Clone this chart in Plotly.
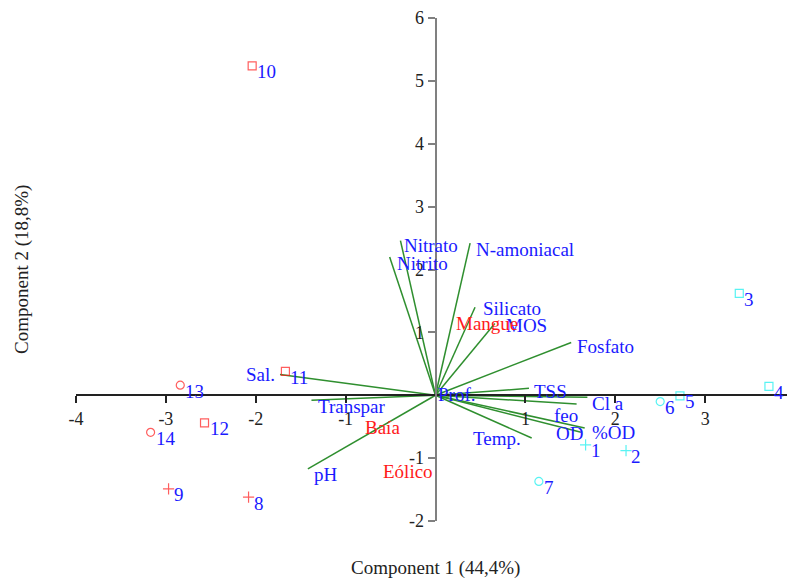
import plotly.graph_objects as go

# ---- data ----
var_names = ["Nitrato", "Nitrito", "N-amoniacal", "Silicato", "MOS", "Fosfato", "TSS",
             "Cl a", "feo", "%OD", "OD", "Temp.", "Prof.", "Sal.", "Transpar", "pH"]
var_x = [-0.39, -0.51, 0.385, 0.44, 0.66, 1.51, 1.04, 1.69, 1.57, 1.66, 1.62, 1.07, 0.01, -1.73, -1.38, -1.42]
var_y = [2.46, 2.20, 2.42, 1.40, 1.14, 0.84, 0.11, -0.03, -0.14, -0.52, -0.59, -0.68, 0.02, 0.33, -0.08, -1.17]

site_ids = ["1", "2", "3", "4", "5", "6", "7", "8", "9", "10", "11", "12", "13", "14"]
site_x = [1.67, 2.12, 3.38, 3.71, 2.72, 2.50, 1.15, -2.08, -2.97, -2.04, -1.67, -2.57, -2.84, -3.17]
site_y = [-0.79, -0.88, 1.62, 0.14, -0.01, -0.10, -1.37, -1.62, -1.49, 5.24, 0.38, -0.44, 0.16, -0.59]
site_shape = ["plus", "plus", "square", "square", "square", "circle", "circle",
              "plus", "plus", "square", "square", "square", "circle", "circle"]
site_group = ["A", "A", "A", "A", "A", "A", "A", "B", "B", "B", "B", "B", "B", "B"]

group_names = ["Mangue", "Baía", "Eólico"]
group_x = [0.57, -0.59, -0.31]
group_y = [1.14, -0.51, -1.22]

x_ticks = [-4, -3, -2, -1, 1, 2, 3, 4]
y_ticks = [-2, -1, 1, 2, 3, 4, 5, 6]

# ---- styles ----
FONT = "Liberation Serif"
GREEN = "#2f8f2f"
BLUE = "#1a1aff"
RED = "#ff1a1a"
CYAN = "#11eeee"
sym_map = {"plus": "cross-thin-open", "square": "square-open", "circle": "circle-open"}
col_map = {"A": CYAN, "B": RED}
# label placement: (xanchor, xshift px, yshift px)
var_label_place = {
    "Nitrato": ("left", 2, -5), "Nitrito": ("left", 5, -7), "N-amoniacal": ("left", 4, -6),
    "Silicato": ("left", 6, -1), "MOS": ("left", 9, -2), "Fosfato": ("left", 4, -4),
    "TSS": ("left", 3, -3), "Cl a": ("left", 3, -6), "feo": ("right", 3, -11),
    "%OD": ("left", 5, -5), "OD": ("right", 4, -1), "Temp.": ("right", -9, 0),
    "Prof.": ("left", 0, -1), "Sal.": ("right", -3, 0), "Transpar": ("left", 5, -6),
    "pH": ("left", 4, -6),
}

fig = go.Figure()

# loading vectors
lx, ly = [], []
for vx, vy in zip(var_x, var_y):
    lx += [0, vx, None]
    ly += [0, vy, None]
fig.add_trace(go.Scatter(x=lx, y=ly, mode="lines",
                         line=dict(color=GREEN, width=1.5), hoverinfo="skip", showlegend=False))

# site markers
fig.add_trace(go.Scatter(
    x=site_x, y=site_y, mode="markers",
    marker=dict(symbol=[sym_map[s] for s in site_shape],
                color=[col_map[g] for g in site_group],
                size=[8 if s == "plus" else 8 for s in site_shape],
                line=dict(width=1.2, color=[col_map[g] for g in site_group])),
    showlegend=False, hoverinfo="skip"))

annotations = []
for name, vx, vy in zip(var_names, var_x, var_y):
    anc, dx, dy = var_label_place[name]
    annotations.append(dict(x=vx, y=vy, xref="x", yref="y", text=name, showarrow=False,
                            xanchor=anc, yanchor="middle", xshift=dx, yshift=dy,
                            font=dict(family=FONT, size=19, color=BLUE)))
for sid, sx, sy in zip(site_ids, site_x, site_y):
    annotations.append(dict(x=sx, y=sy, xref="x", yref="y", text=sid, showarrow=False,
                            xanchor="left", yanchor="middle", xshift=3, yshift=-6,
                            font=dict(family=FONT, size=19, color=BLUE)))
for gname, gx, gy in zip(group_names, group_x, group_y):
    annotations.append(dict(x=gx, y=gy, xref="x", yref="y", text=gname, showarrow=False,
                            xanchor="center", yanchor="middle",
                            font=dict(family=FONT, size=19, color=RED)))

# axis titles
annotations.append(dict(x=0.5, y=0, xref="paper", yref="paper", text="Component 1 (44,4%)",
                        showarrow=False, xanchor="center", yanchor="middle", yshift=-47,
                        font=dict(family=FONT, size=19, color="#222")))
annotations.append(dict(x=0, y=0.499, xref="paper", yref="paper", text="Component 2 (18,8%)",
                        showarrow=False, xanchor="center", yanchor="middle", xshift=-54,
                        textangle=-90, font=dict(family=FONT, size=19, color="#222")))

fig.update_layout(
    width=787, height=570,
    margin=dict(l=68, r=0, t=10, b=57),
    paper_bgcolor="white", plot_bgcolor="white",
    font=dict(family=FONT, size=18, color="#222"),
    annotations=annotations,
    xaxis=dict(range=[-4, 4], anchor="free", position=0.25, showgrid=False, zeroline=False,
               showline=True, linecolor="#222", linewidth=1.5, ticks="outside", ticklen=7,
               tickcolor="#222", tickwidth=1.5, tickvals=x_ticks,
               ticktext=[str(t) for t in x_ticks], tickfont=dict(family=FONT, size=18, color="#222")),
    yaxis=dict(range=[-2, 6], anchor="free", position=0.5, showgrid=False, zeroline=False,
               showline=True, linecolor="#808080", linewidth=2, ticks="outside", ticklen=7,
               tickcolor="#808080", tickwidth=1.5, tickvals=y_ticks,
               ticktext=[str(t) for t in y_ticks], tickfont=dict(family=FONT, size=18, color="#222")),
)

fig.write_html("out.html")
